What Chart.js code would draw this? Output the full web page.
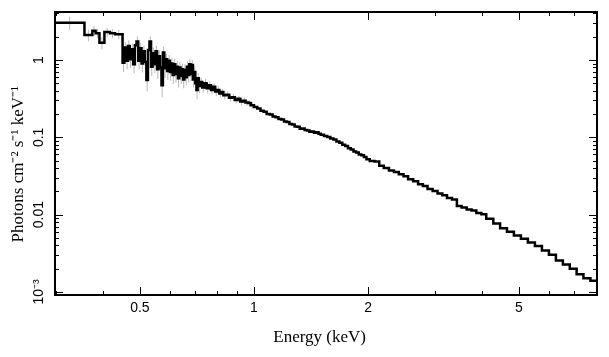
<!DOCTYPE html>
<html><head><meta charset="utf-8">
<script src="https://cdn.jsdelivr.net/npm/chart.js@4.4.0/dist/chart.umd.min.js"></script>
<style>html,body{margin:0;padding:0;background:#fff;}#wrap{width:609px;height:357px;}</style>
</head><body><div id="wrap"><canvas id="c" width="609" height="357"></canvas></div>
<script>
// Bin edges (keV) – one more than the number of bins
const binEdges = [
  0.29, 0.357, 0.3745, 0.382, 0.391, 0.403, 0.417, 0.430,
  0.450, 0.455, 0.460, 0.465, 0.470, 0.475, 0.480, 0.485, 0.490, 0.495,
  0.500, 0.505, 0.510, 0.515, 0.520, 0.525, 0.530, 0.535, 0.540, 0.545,
  0.550, 0.555, 0.560, 0.565, 0.570, 0.575, 0.580, 0.585, 0.590, 0.595,
  0.600, 0.605, 0.610, 0.615, 0.620, 0.625, 0.630, 0.635, 0.640, 0.645,
  0.650, 0.655, 0.660, 0.665, 0.670, 0.675, 0.680, 0.685, 0.690, 0.695,
  0.700, 0.705, 0.710, 0.715,
  0.72, 0.73, 0.74, 0.75, 0.76, 0.77, 0.78, 0.79, 0.80, 0.81, 0.82, 0.83,
  0.845, 0.86, 0.875, 0.89, 0.905, 0.92, 0.935, 0.95, 0.965, 0.98,
  1.00, 1.02, 1.04, 1.06, 1.08, 1.10, 1.12, 1.14, 1.16, 1.18, 1.20, 1.22, 1.24,
  1.26, 1.28, 1.30, 1.32, 1.34, 1.36, 1.38, 1.40, 1.42, 1.44, 1.46, 1.48,
  1.50, 1.53, 1.56, 1.59, 1.62, 1.65, 1.68, 1.71, 1.74, 1.77, 1.80, 1.83,
  1.86, 1.89, 1.92, 1.95, 1.98,
  2.02, 2.08, 2.14, 2.20, 2.27, 2.34, 2.41, 2.48, 2.55, 2.63, 2.71, 2.79,
  2.87, 2.96, 3.05, 3.14, 3.23, 3.33, 3.43, 3.53, 3.64, 3.75, 3.86, 3.98,
  4.10, 4.28, 4.46, 4.65, 4.85, 5.06, 5.28, 5.51, 5.75, 6.00, 6.26, 6.53,
  6.81, 7.10, 7.40, 7.72,
  8.05
];
// Unfolded flux per bin (photons cm^-2 s^-1 keV^-1)
const flux = [
  3.04, 2.10, 2.39, 2.21, 1.67, 2.30, 2.21, 2.15,
  0.92, 1.45, 0.98, 1.52, 1.02, 1.38, 0.88, 1.55, 1.74, 0.98,
  1.42, 0.90, 1.30, 0.95, 0.55, 1.35, 1.74, 0.82, 1.22, 0.88,
  1.30, 0.76, 1.12, 0.80, 0.47, 1.25, 0.78, 1.02, 0.72, 0.98,
  0.70, 0.90, 0.64, 0.88, 0.66, 0.82, 0.58, 0.80, 0.62, 0.76,
  0.56, 0.74, 0.60, 0.82, 0.64, 0.88, 0.66, 0.86, 0.56, 0.70,
  0.50, 0.41, 0.58, 0.46,
  0.52, 0.44, 0.50, 0.43, 0.47, 0.41, 0.45, 0.39, 0.41, 0.37, 0.385, 0.35,
  0.355, 0.325, 0.33, 0.305, 0.315, 0.29, 0.298, 0.282, 0.278, 0.26,
  0.247, 0.236, 0.221, 0.214, 0.200, 0.197, 0.186, 0.182, 0.173, 0.170, 0.160, 0.158, 0.149,
  0.147, 0.138, 0.137, 0.129, 0.130, 0.124, 0.123, 0.118, 0.119, 0.115, 0.116, 0.111,
  0.108, 0.104, 0.101, 0.0965, 0.0938, 0.0885, 0.0850, 0.0800, 0.0770, 0.0725, 0.0695, 0.0655,
  0.0638, 0.0600, 0.0586, 0.0555, 0.0522,
  0.0495, 0.0488, 0.0428, 0.0402, 0.0373, 0.0357, 0.0332, 0.0313, 0.0288, 0.0270, 0.0247, 0.0234,
  0.0215, 0.0203, 0.0188, 0.0178, 0.0164, 0.0157, 0.0129, 0.0124, 0.0117, 0.0113, 0.0105, 0.0101,
  0.00885, 0.00770, 0.00668, 0.00603, 0.00538, 0.00487, 0.00436, 0.00393, 0.00343, 0.00302, 0.00255, 0.00226,
  0.00200, 0.00170, 0.00150, 0.00140
];
// 1-sigma errors for the low-energy bins (where the grey bars are visible)
const fluxErr = [
  0.60, 0.35, 0.35, 0.30, 0.30, 0.30, 0.30, 0.30,
  0.22, 0.26, 0.22, 0.27, 0.23, 0.25, 0.21, 0.27, 0.28, 0.22,
  0.25, 0.21, 0.24, 0.21, 0.16, 0.25, 0.28, 0.20, 0.23, 0.20,
  0.23, 0.19, 0.21, 0.18, 0.14, 0.23, 0.19, 0.19, 0.17, 0.18,
  0.16, 0.17, 0.15, 0.16, 0.15, 0.15, 0.14, 0.15, 0.13, 0.14,
  0.13, 0.14, 0.13, 0.14, 0.13, 0.14, 0.13, 0.14, 0.12, 0.12,
  0.11, 0.10, 0.10, 0.09,
  0.07, 0.06, 0.07, 0.06, 0.06, 0.05, 0.05, 0.05, 0.05, 0.04, 0.04, 0.04,
  0.04, 0.035, 0.035, 0.03, 0.03, 0.03, 0.03, 0.025, 0.025, 0.025
];
const xTickValues = [0.3, 0.4, 0.5, 0.6, 0.7, 0.8, 0.9, 1, 2, 3, 4, 5, 6, 7, 8];
const xLabelValues = [0.5, 1, 2, 5];
const xLabelTexts = ['0.5', '1', '2', '5'];
const yTickValues = [
  0.001, 0.002, 0.003, 0.004, 0.005, 0.006, 0.007, 0.008, 0.009,
  0.01, 0.02, 0.03, 0.04, 0.05, 0.06, 0.07, 0.08, 0.09,
  0.1, 0.2, 0.3, 0.4, 0.5, 0.6, 0.7, 0.8, 0.9,
  1, 2, 3, 4
];
const yLabelValues = [0.001, 0.01, 0.1, 1];
const yLabelTexts = ['10\u207B\u00B3', '0.01', '0.1', '1'];
const xRange = [0.2985, 8.035];
const yRange = [0.000914, 4.176];
const xTitle = 'Energy (keV)';
const yTitle = 'Photons cm\u207B\u00B2 s\u207B\u00B9 keV\u207B\u00B9';

const stepPoints = binEdges.map((e, i) => ({x: e, y: flux[Math.min(i, flux.length - 1)]}));
const errPoints = [];
fluxErr.forEach((err, i) => {
  const xc = Math.sqrt(Math.max(binEdges[i], xRange[0]) * binEdges[i + 1]);
  errPoints.push({x: xc, y: flux[i] - err}, {x: xc, y: flux[i] + err}, {x: xc, y: null});
});

const frameTicks = {
  id: 'frameTicks',
  afterDraw(chart) {
    const {ctx, chartArea: {left, right, top, bottom}, scales: {x, y}} = chart;
    ctx.save();
    ctx.strokeStyle = '#000';
    ctx.lineWidth = 1;
    ctx.beginPath();
    x.ticks.forEach(t => {
      const px = Math.round(x.getPixelForValue(t.value)) + 0.5;
      const len = xLabelValues.includes(t.value) ? 8 : 4;
      ctx.moveTo(px, bottom); ctx.lineTo(px, bottom - len);
      ctx.moveTo(px, top); ctx.lineTo(px, top + len);
    });
    y.ticks.forEach(t => {
      const py = Math.round(y.getPixelForValue(t.value)) + 0.5;
      const len = yLabelValues.includes(t.value) ? 8 : 4;
      ctx.moveTo(left, py); ctx.lineTo(left + len, py);
      ctx.moveTo(right, py); ctx.lineTo(right - len, py);
    });
    ctx.stroke();
    ctx.lineWidth = 2;
    ctx.strokeRect(left, top, right - left, bottom - top);
    ctx.restore();
  }
};

const pad = '\u00A0';
new Chart(document.getElementById('c'), {
  type: 'line',
  data: {
    datasets: [
      {data: stepPoints, stepped: true, borderColor: '#000', borderWidth: 2.5, pointRadius: 0, fill: false, order: 0},
      {data: errPoints, borderColor: '#b8b8b8', borderWidth: 1, pointRadius: 0, fill: false, spanGaps: false, order: 1}
    ]
  },
  options: {
    responsive: false, animation: false, devicePixelRatio: 1,
    layout: {padding: {top: 12, right: 12, left: 0, bottom: 0}},
    plugins: {legend: {display: false}, tooltip: {enabled: false}},
    scales: {
      x: {
        type: 'logarithmic', min: xRange[0], max: xRange[1],
        afterBuildTicks: s => { s.ticks = xTickValues.map(v => ({value: v})); },
        afterFit: s => { s.height = 62; },
        grid: {display: false, drawTicks: false},
        border: {display: false},
        ticks: {
          autoSkip: false, minRotation: 0, maxRotation: 0, padding: 5, color: '#000',
          font: {family: 'Liberation Sans', size: 14},
          callback: v => { const i = xLabelValues.indexOf(v); return i >= 0 ? xLabelTexts[i] : ''; }
        },
        title: {display: true, text: xTitle + pad.repeat(3), color: '#000',
          font: {family: 'Liberation Serif', size: 17}, padding: {top: 0, bottom: 9}}
      },
      y: {
        type: 'logarithmic', min: yRange[0], max: yRange[1],
        afterBuildTicks: s => { s.ticks = yTickValues.map(v => ({value: v})); },
        afterFit: s => { s.width = 55; },
        grid: {display: false, drawTicks: false},
        border: {display: false},
        ticks: {
          autoSkip: false, minRotation: 90, maxRotation: 90, crossAlign: 'center', padding: 2, color: '#000',
          font: {family: 'Liberation Sans', size: 14},
          callback: v => { const i = yLabelValues.indexOf(v); return i >= 0 ? yLabelTexts[i] : ''; }
        },
        title: {display: true, text: yTitle + pad.repeat(5), color: '#000',
          font: {family: 'Liberation Serif', size: 17}, padding: {top: 8, bottom: 0}}
      }
    }
  },
  plugins: [frameTicks]
});
</script>
</body></html>
